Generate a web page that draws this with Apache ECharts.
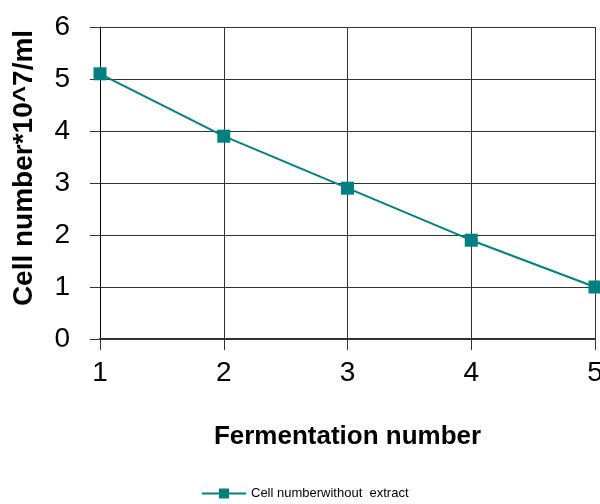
<!DOCTYPE html>
<html><head><meta charset="utf-8">
<script src="https://cdn.jsdelivr.net/npm/echarts@6/dist/echarts.min.js"></script>
<style>html,body{margin:0;padding:0;background:#fff}#c{width:600px;height:504px}</style>
</head><body><div id="c"></div>
<script>
const fermentation = [1, 2, 3, 4, 5];
const cellNumber = [5.1, 3.9, 2.9, 1.9, 1.0];
const seriesName = 'Cell numberwithout  extract';
const xTitle = 'Fermentation number';
const yTitle = 'Cell number*10^7/ml';

const chart = echarts.init(document.getElementById('c'), null, {renderer: 'canvas'});
const font = 'Liberation Sans, Arial, sans-serif';
chart.setOption({
  animation: false,
  backgroundColor: '#fff',
  grid: {left: 100, right: 5, top: 27, bottom: 165, containLabel: false, outerBoundsMode: 'none'},
  xAxis: {
    type: 'value', min: 1, max: 5, interval: 1,
    name: xTitle, nameLocation: 'middle', nameGap: 85,
    nameTextStyle: {fontFamily: font, fontSize: 26, fontWeight: 'bold', color: '#000'},
    axisLine: {show: true, onZero: false, lineStyle: {color: '#333', width: 2}},
    axisTick: {show: true, length: 11, lineStyle: {color: '#333'}},
    axisLabel: {fontFamily: font, fontSize: 28, color: '#000', margin: 20},
    splitLine: {show: true, lineStyle: {color: '#333', width: 1}}
  },
  yAxis: {
    type: 'value', min: 0, max: 6, interval: 1,
    name: yTitle, nameLocation: 'middle', nameGap: 62,
    nameTextStyle: {fontFamily: font, fontSize: 28, fontWeight: 'bold', color: '#000', padding: [0, 0, 0, 30]},
    axisLine: {show: true, lineStyle: {color: '#000', width: 1}},
    axisTick: {show: true, length: 10, lineStyle: {color: '#333'}},
    axisLabel: {fontFamily: font, fontSize: 28, color: '#000', margin: 30},
    splitLine: {show: true, lineStyle: {color: '#333', width: 1}}
  },
  legend: {
    bottom: 4, left: 202, padding: 0,
    itemWidth: 44, itemHeight: 12, itemGap: 4,
    textStyle: {fontFamily: font, fontSize: 13, color: '#000'},
    data: [{name: seriesName, icon: 'path://M0,5 L44,5 L44,7 L0,7 Z M17,1 L27,1 L27,11 L17,11 Z'}]
  },
  series: [{
    name: seriesName, type: 'line',
    data: fermentation.map((x, i) => [x, cellNumber[i]]),
    symbol: 'rect', symbolSize: 13,
    lineStyle: {color: '#008080', width: 2},
    itemStyle: {color: '#008080'}
  }]
});
</script></body></html>
